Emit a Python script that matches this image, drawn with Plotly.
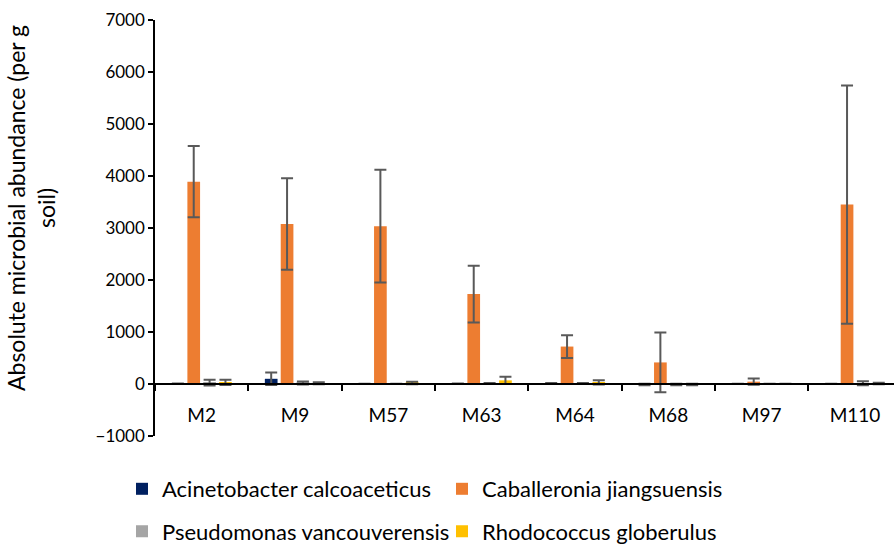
import plotly.graph_objects as go

categories = ["M2", "M9", "M57", "M63", "M64", "M68", "M97", "M110"]
series_names = ["Acinetobacter calcoaceticus", "Caballeronia jiangsuensis",
                "Pseudomonas vancouverensis", "Rhodococcus globerulus"]
acinetobacter = [5, 100, 3, 5, 10, -8, 2, 3]
acinetobacter_err = [5, 120, 3, 5, 10, 15, 2, 3]
caballeronia = [3890, 3075, 3035, 1730, 720, 415, 45, 3450]
caballeronia_err = [685, 880, 1085, 545, 218, 575, 60, 2290]
pseudomonas = [25, 20, 3, 10, 10, -8, 2, 15]
pseudomonas_err = [55, 30, 3, 10, 10, 15, 2, 40]
rhodococcus = [30, 15, 20, 70, 30, -8, 2, 10]
rhodococcus_err = [50, 20, 25, 70, 40, 15, 2, 15]
y_ticks = [-1000, 0, 1000, 2000, 3000, 4000, 5000, 6000, 7000]
y_title = "Absolute microbial abundance (per g<br>soil)"

colors = ["#002060", "#ED7D31", "#A5A5A5", "#FFC000"]
FONT = "Lato"

W, H = 894, 544
L, T, B, R = 155, 20, 108, 0
plot_w = W - L - R
plot_h = H - T - B
cat_px = 93.33
xmax = -0.5 + plot_w / cat_px

fig = go.Figure()
data = [(acinetobacter, acinetobacter_err), (caballeronia, caballeronia_err),
        (pseudomonas, pseudomonas_err), (rhodococcus, rhodococcus_err)]
for i, (vals, errs) in enumerate(data):
    fig.add_trace(go.Bar(
        x=categories, y=vals, name=series_names[i],
        marker=dict(color=colors[i], line=dict(width=0)),
        error_y=dict(type="data", array=errs, visible=True,
                     color="#595959", thickness=2, width=6),
        legend="legend" if i < 2 else "legend2",
    ))

ymin, ymax = -1000, 7000
zero_frac = (0 - ymin) / (ymax - ymin)

leg_common = dict(orientation="h", xanchor="left", yanchor="middle",
                  xref="container", yref="container",
                  entrywidth=275, entrywidthmode="pixels",
                  font=dict(family=FONT, size=22, color="#000000"),
                  bgcolor="rgba(0,0,0,0)", borderwidth=0)

fig.add_annotation(
    text=y_title, textangle=-90, showarrow=False,
    xref="paper", yref="paper",
    x=(31 - L) / plot_w, y=(T + plot_h - 208) / plot_h,
    xanchor="center", yanchor="middle",
    font=dict(family=FONT, size=23, color="#000000"),
)

fig.update_layout(
    width=W, height=H,
    margin=dict(l=L, r=R, t=T, b=B, pad=0, autoexpand=False),
    paper_bgcolor="white", plot_bgcolor="white",
    barmode="group", bargap=0.32, bargroupgap=0.2,
    font=dict(family=FONT, size=18, color="#000000"),
    legend=dict(x=122 / W, y=1 - 489 / H, **leg_common),
    legend2=dict(x=122 / W, y=1 - 531.5 / H, **leg_common),
    xaxis=dict(
        type="category", range=[-0.5, xmax],
        anchor="free", position=zero_frac,
        showline=True, linecolor="#000000", linewidth=1.5,
        ticks="outside", tickson="boundaries", ticklen=6, tickcolor="#000000", tickwidth=1.5,
        ticklabelstandoff=14,
        tickfont=dict(family=FONT, size=19, color="#000000"),
        showgrid=False, zeroline=False,
    ),
    yaxis=dict(
        range=[ymin, ymax], tickvals=y_ticks,
        showline=True, linecolor="#000000", linewidth=1.5,
        ticks="outside", ticklen=5, tickcolor="#000000", tickwidth=1.5,
        ticklabelstandoff=0,
        tickfont=dict(family=FONT, size=17, color="#000000"),
        showgrid=False, zeroline=False,
    ),
)

fig.write_html("out.html")
